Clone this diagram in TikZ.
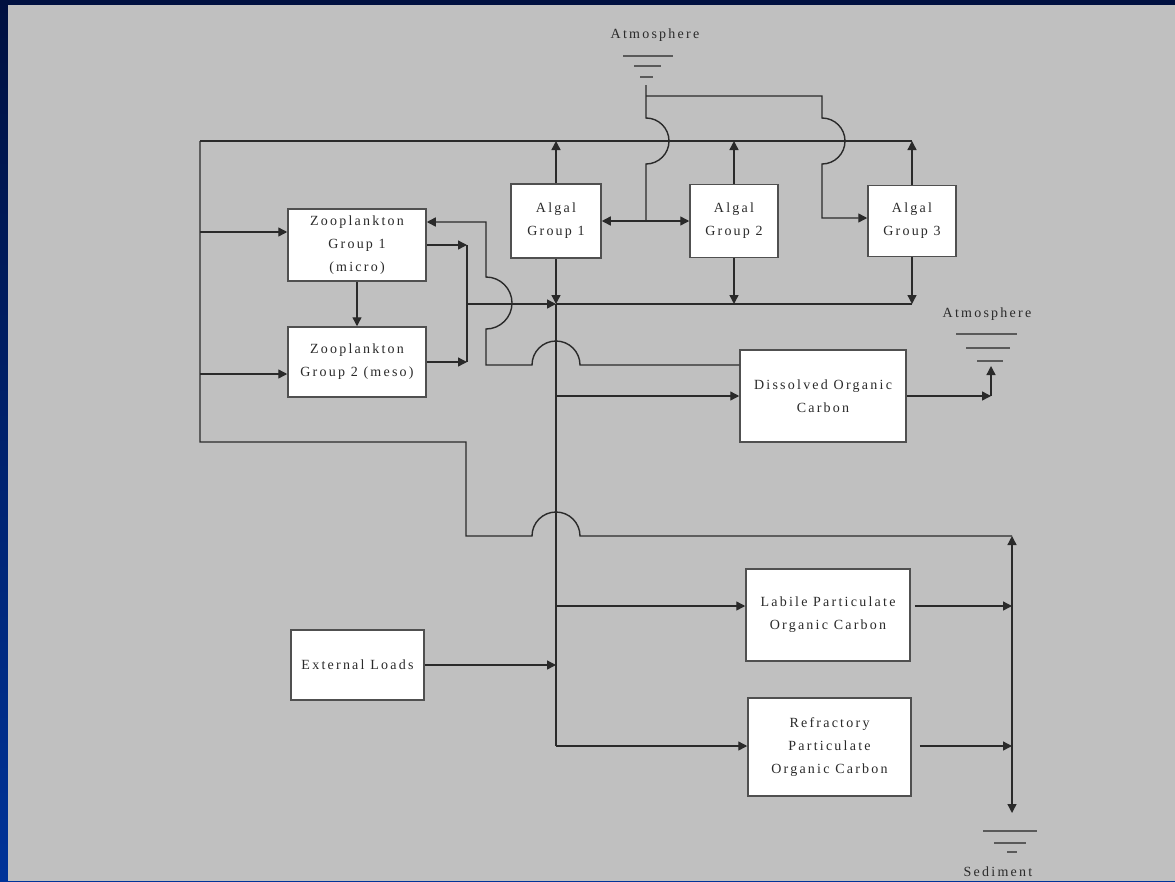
\documentclass[tikz,border=0pt]{standalone}
\usepackage{fontspec}
\setmainfont{Liberation Serif}[LetterSpace=16]
\usetikzlibrary{arrows.meta,calc}
\definecolor{bg}{HTML}{C0C0C0}
\definecolor{ln}{HTML}{2A2A2A}
\definecolor{boxline}{HTML}{505050}
\definecolor{txt}{HTML}{2A2A2A}
\definecolor{gline}{HTML}{5A5A5A}
\definecolor{navytop}{HTML}{001040}
\definecolor{navybot}{HTML}{003399}
\begin{document}
\begin{tikzpicture}[x=1pt,y=-1pt,
  box/.style={draw=boxline,fill=white,line width=1.5pt,inner sep=0pt,align=center,
    font=\fontsize{14}{23}\selectfont,text=txt},
  lbl/.style={font=\fontsize{14}{16}\selectfont,text=txt,inner sep=0pt},
  conn/.style={draw=ln,line width=1.4pt},
  arr/.style={-{Triangle[length=9pt,width=9pt]}},
  darr/.style={{Triangle[length=9pt,width=9pt]}-{Triangle[length=9pt,width=9pt]}},
  gnd/.style={draw=gline,line width=2pt}]
\useasboundingbox (0,0) rectangle (1175,881);
\shade[top color=navytop,bottom color=navybot] (0,0) rectangle (1175,881);
\fill[bg] (8,5) rectangle (1175,881);

% boxes
\node[box,minimum width=138pt,minimum height=72pt] (zoo1) at (357,245) {Zooplankton\\Group 1\\(micro)};
\node[box,minimum width=138pt,minimum height=70pt] (zoo2) at (357,362) {Zooplankton\\Group 2 (meso)};
\node[box,minimum width=90pt,minimum height=74pt] (alg1) at (556,221) {Algal\\Group 1};
\node[box,minimum width=88pt,minimum height=73pt] (alg2) at (734,221) {Algal\\Group 2};
\node[box,minimum width=88pt,minimum height=71pt] (alg3) at (912,221) {Algal\\Group 3};
\node[box,minimum width=166pt,minimum height=92pt] (doc) at (823,396) {Dissolved Organic\\Carbon};
\node[box,minimum width=164pt,minimum height=92pt] (lpoc) at (828,615) {Labile Particulate\\Organic Carbon};
\node[box,minimum width=163pt,minimum height=98pt] (rpoc) at (829.5,747) {Refractory\\Particulate\\Organic Carbon};
\node[box,minimum width=133pt,minimum height=70pt] (ext) at (357.5,665) {External Loads};

% labels and ground symbols
\node[lbl] (atm1) at (655,35) {Atmosphere};
\draw[gnd] (623,56) -- (673,56);
\draw[gnd] (634,66) -- (661,66);
\draw[gnd] (640,77) -- (653,77);
\node[lbl] (atm2) at (987,314) {Atmosphere};
\draw[gnd] (956,334) -- (1017,334);
\draw[gnd] (966,348) -- (1010,348);
\draw[gnd] (977,361) -- (1003,361);
\node[lbl] (sed) at (998,872) {Sediment};
\draw[gnd] (983,831) -- (1037,831);
\draw[gnd] (994,843) -- (1026,843);
\draw[gnd] (1007,852) -- (1017,852);

% key coordinates
\coordinate (TL) at (200,141);
\coordinate (TR) at (912,141);
\coordinate (BL) at (200,442);
\coordinate (B0) at (556,304);
\coordinate (B1) at (556,746);
\coordinate (C) at (467,304);
\coordinate (S0) at (1012,536);
\coordinate (S1) at (1012,813);
\coordinate (g1) at (646,85);
\coordinate (j1) at (646,221);
\coordinate (k3) at (822,218);
\coordinate (a3in) at ([yshift=3pt]alg3.west);
\coordinate (z1in) at ([yshift=13pt]zoo1.west);
\coordinate (z2in) at ([yshift=-12pt]zoo2.west);
\coordinate (z1fd) at ([yshift=23pt]zoo1.east);
\coordinate (dfd) at ([yshift=31pt]doc.west);
\coordinate (lp) at (556,606);
\coordinate (A2) at (991,396);
\coordinate (g2) at (991,366);

% top feedback loop
\draw[conn] (TL) -- (TR);
\draw[conn] (TL) -- (BL) -- (466,442) -- (466,536) -- (532,536)
  arc[start angle=180,end angle=0,radius=24pt] -- (S0);
\draw[conn,arr] (TL |- z1in) -- (z1in);
\draw[conn,arr] (TL |- z2in) -- (z2in);

% algae up
\draw[conn,arr] (alg1.north) -- (alg1.north |- TL);
\draw[conn,arr] (alg2.north) -- (alg2.north |- TL);
\draw[conn,arr] (alg3.north) -- (alg3.north |- TL);

% algae down to bus
\draw[conn] (B0) -- (alg3.south |- B0);
\draw[conn,arr] (alg1.south) -- (B0);
\draw[conn,arr] (alg2.south) -- (alg2.south |- B0);
\draw[conn,arr] (alg3.south) -- (alg3.south |- B0);

% atmosphere feed to algae
\draw[conn] (g1) -- (646,118) arc[start angle=90,end angle=-90,radius=23pt] -- (j1);
\draw[conn,arr] (j1) -- (alg1.east);
\draw[conn,arr] (j1) -- (j1 -| alg2.west);
\draw[conn,arr] (646,96) -- (822,96) -- (822,118)
  arc[start angle=90,end angle=-90,radius=23pt] -- (k3) -- (a3in);

% zooplankton
\draw[conn,arr] (zoo1.south) -- (zoo2.north);
\draw[conn,arr] (zoo1.east) -- (zoo1.east -| C);
\draw[conn,arr] (zoo2.east) -- (zoo2.east -| C);
\draw[conn] (zoo1.east -| C) -- (zoo2.east -| C);
\draw[conn,arr] (C) -- (B0);

% DOC to zooplankton 1
\draw[conn,arr] (dfd) -- (580,365) arc[start angle=0,end angle=180,radius=24pt]
  -- (486,365) -- (486,329) arc[start angle=-90,end angle=90,radius=26pt]
  -- (486,222) -- (z1fd);

% bus
\draw[conn] (B0) -- (B1);
\draw[conn,arr] (B0 |- doc.west) -- (doc.west);
\draw[conn,arr] (lp) -- (lp -| lpoc.west);
\draw[conn,arr] (B1) -- (B1 -| rpoc.west);
\draw[conn,arr] (ext.east) -- (ext.east -| B0);

% to atmosphere and sediment
\draw[conn,arr] (doc.east) -- (A2);
\draw[conn,arr] (A2) -- (g2);
\draw[conn,darr] (S0) -- (S1);
\draw[conn,arr] ([xshift=4pt]lp -| lpoc.east) -- (lp -| S0);
\draw[conn,arr] ([xshift=8pt]B1 -| rpoc.east) -- (B1 -| S0);
\end{tikzpicture}
\end{document}
